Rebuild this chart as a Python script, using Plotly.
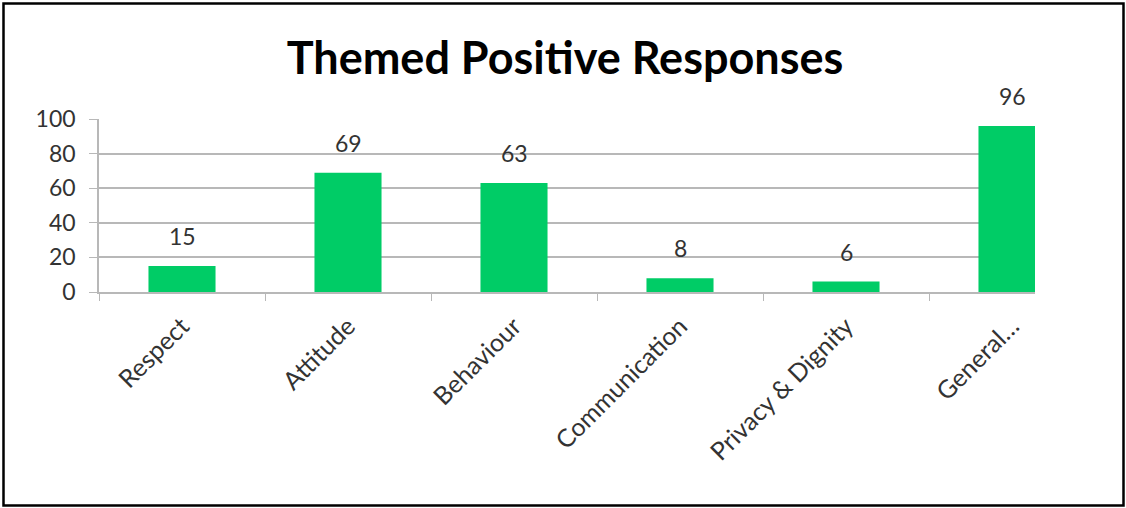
import plotly.graph_objects as go

# Theme categories and counts of positive responses
categories = ["Respect", "Attitude", "Behaviour", "Communication", "Privacy & Dignity", "General…"]
counts = [15, 69, 63, 8, 6, 96]
y_ticks = [0, 20, 40, 60, 80, 100]

W, H = 1126, 508
L, R, T, B = 99, 91, 119, 216
pw, ph = W - L - R, H - T - B

FONT = "Lato"
TEXT = "#333333"
GRID = "#b8b8b8"
BAR = "#00CC66"

fig = go.Figure()
fig.add_trace(go.Bar(
    x=categories,
    y=counts,
    marker=dict(color=BAR, line=dict(width=0)),
    width=0.404,
    hoverinfo="skip",
))

# Value labels above each bar
for c, v in zip(categories, counts):
    fig.add_annotation(
        x=c, y=v, text=str(v), showarrow=False,
        xanchor="center", yanchor="bottom", yshift=14,
        font=dict(family=FONT, size=23, color=TEXT),
    )

# Outer frame around the whole chart
def px_x(p):
    return (p - L) / pw

def px_y(p):
    return (H - B - p) / ph

fig.add_shape(
    type="rect", xref="paper", yref="paper",
    x0=px_x(3.5), x1=px_x(1123.5), y0=px_y(505.5), y1=px_y(3.5),
    line=dict(color="black", width=2.5), fillcolor="rgba(0,0,0,0)",
)

fig.update_layout(
    width=W, height=H,
    margin=dict(l=L, r=R, t=T, b=B, pad=0),
    paper_bgcolor="white", plot_bgcolor="white",
    showlegend=False,
    title=dict(
        text="<b>Themed Positive Responses</b>",
        x=565 / W, xanchor="center", y=1 - 58 / H, yanchor="middle",
        font=dict(family=FONT, size=45, color="black"),
    ),
    xaxis=dict(
        type="category",
        range=[-0.5, 5.5 - 60 / 166],
        tickson="boundaries",
        ticks="outside", ticklen=7, tickcolor=GRID, tickwidth=1.2,
        showline=True, linecolor=GRID, linewidth=1.5,
        showgrid=False,
        tickangle=-45,
        tickfont=dict(family=FONT, size=25, color=TEXT),
        ticklabelstandoff=8,
        fixedrange=True,
    ),
    yaxis=dict(
        range=[0, 100],
        tickvals=y_ticks,
        ticks="outside", ticklen=8, tickcolor=GRID, tickwidth=1.2,
        showline=True, linecolor=GRID, linewidth=1.5,
        showgrid=True, gridcolor=GRID, gridwidth=1.5,
        zeroline=False,
        tickfont=dict(family=FONT, size=23, color=TEXT),
        ticklabelstandoff=9,
        fixedrange=True,
    ),
)

fig.write_html("out.html", config={"displayModeBar": False})
